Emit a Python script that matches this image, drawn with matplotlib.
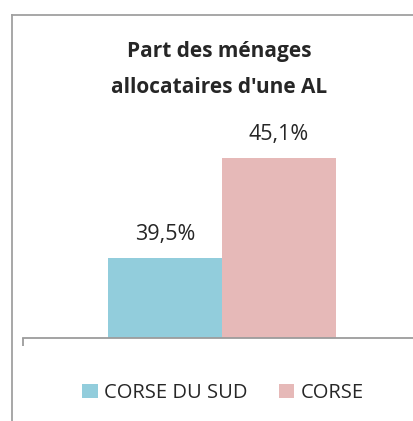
import matplotlib
matplotlib.use('Agg')
import matplotlib.pyplot as plt
from matplotlib.patches import Patch
from matplotlib.lines import Line2D

plt.rcParams['font.family'] = ['Open Sans', 'DejaVu Sans']

# données
series = ['CORSE DU SUD', 'CORSE']
values = [39.5, 45.1]
labels = ['39,5%', '45,1%']
colors = ['#92CDDC', '#E6B9B8']
title_lines = ["Part des ménages", "allocataires d'une AL"]

W, H = 413, 421
fig = plt.figure(figsize=(W / 100, H / 100), dpi=100)

# cadre du graphique (sort de l'image à droite et en bas)
fx, fy = 11.5 / W, 1 - 14.5 / H
fig.add_artist(Line2D([fx, fx], [0, fy], transform=fig.transFigure,
                      color='#a0a0a0', lw=1.3, solid_capstyle='projecting'))
fig.add_artist(Line2D([fx, 1], [fy, fy], transform=fig.transFigure,
                      color='#a0a0a0', lw=1.3, solid_capstyle='projecting'))

left, right = 23 / W, 421 / W
bottom, top = 1 - 338 / H, 1 - 70 / H
ax = fig.add_axes([left, bottom, right - left, top - bottom])

xs = [0, 1]
ax.bar(xs, values, width=1.0, color=colors, bottom=0)
ax.set_ylim(35, 50)
ax.set_xlim(-1.246, 2.246)

for x, v, lab in zip(xs, values, labels):
    ax.annotate(lab, (x, v), xytext=(0, 9), textcoords='offset points',
                ha='center', va='bottom', fontsize=15.5, color='#262626')

for s in ['top', 'right', 'left']:
    ax.spines[s].set_visible(False)
ax.spines['bottom'].set_color('#9c9c9c')
ax.spines['bottom'].set_linewidth(1.3)
ax.set_yticks([])
ax.set_xticks([-1.246, 2.246])
ax.set_xticklabels([])
ax.tick_params(axis='x', length=6, width=1.3, color='#9c9c9c', direction='out')

for line, yb in zip(title_lines, [57, 93]):
    fig.text(219 / W, 1 - yb / H, line, ha='center', va='baseline',
             fontsize=15, fontweight='bold', color='#262626')

handles = [Patch(facecolor=c, edgecolor='none') for c in colors]
fig.legend(handles, series, loc='center', bbox_to_anchor=(223 / W, 1 - 393 / H),
           ncol=2, frameon=False, fontsize=14.5, handlelength=0.75,
           handleheight=0.75, handletextpad=0.3, columnspacing=1.6,
           labelcolor='#262626')

fig.savefig('out.png', dpi=100)
